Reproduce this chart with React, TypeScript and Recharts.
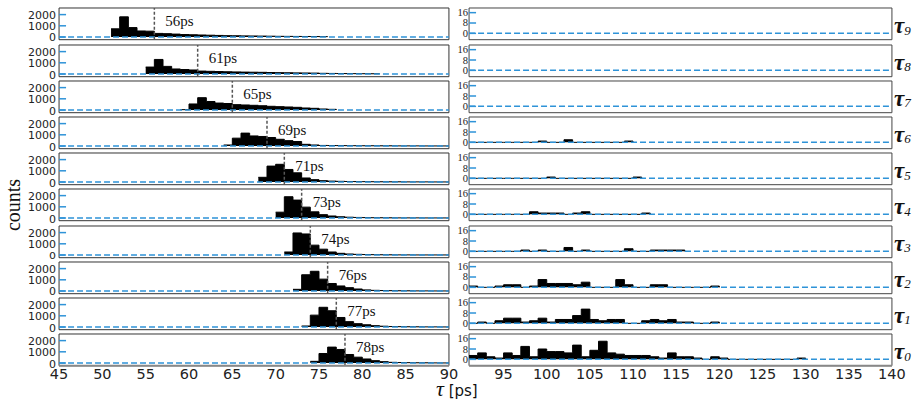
import React from 'react';
import { ComposedChart, Area, XAxis, YAxis, ReferenceLine, ReferenceArea } from 'recharts';

// rows top to bottom: tau9 ... tau0
const tauIndex = [9, 8, 7, 6, 5, 4, 3, 2, 1, 0];
const meanPs = [56, 61, 65, 69, 71, 73, 74, 76, 77, 78];

// left panel: first bin (ps) of every row, 1 ps bins
const leftFirstBin = [51, 55, 59, 64, 68, 70, 71, 72, 73, 74];
const leftT9 = [730, 1800, 840, 540, 520, 320, 300, 260, 220, 200, 180, 160, 140, 120, 110, 100, 90, 80, 70, 60, 55, 50, 45, 40, 30];
const leftT8 = [620, 1300, 680, 450, 400, 360, 260, 240, 220, 200, 185, 170, 160, 150, 130, 120, 110, 100, 90, 80, 60, 50, 40, 35, 30, 25, 20];
const leftT7 = [30, 540, 1100, 760, 620, 580, 480, 450, 420, 380, 330, 300, 270, 240, 180, 150, 90, 60];
const leftT6 = [90, 700, 1150, 900, 850, 760, 600, 480, 400, 150, 90, 50, 40, 35, 30, 25, 20, 20, 15, 15, 10, 10, 10, 5, 5, 5];
const leftT5 = [420, 1420, 1580, 1120, 820, 360, 210, 120, 80, 60, 45, 35, 30, 25, 20, 15, 15, 10, 10, 10, 5, 5];
const leftT4 = [520, 1900, 1600, 970, 550, 300, 180, 110, 70, 50, 35, 25, 20, 15, 10, 10, 10, 5, 5, 5];
const leftT3 = [270, 1970, 1880, 880, 520, 270, 150, 90, 60, 40, 30, 20, 15, 10, 10, 5, 5, 5, 5];
const leftT2 = [150, 1450, 1760, 1060, 670, 450, 300, 180, 100, 60, 40, 30, 20, 15, 10, 10, 5, 5];
const leftT1 = [90, 1060, 1760, 1450, 850, 480, 300, 200, 120, 70, 40, 30, 20, 15, 10, 10, 5];
const leftT0 = [150, 850, 1420, 1210, 760, 520, 360, 210, 120, 60, 40, 30, 20, 15, 10, 5];
const leftCounts = [leftT9, leftT8, leftT7, leftT6, leftT5, leftT4, leftT3, leftT2, leftT1, leftT0];

// right panel: every row starts at 91 ps
const rightFirstBin = 91;
const rightT9: number[] = [];
const rightT8: number[] = [];
const rightT7: number[] = [];
const rightT6 = [0, 0, 0, 0, 0, 0, 0, 0, 1, 0, 0, 2, 0, 0, 0, 0, 0, 0, 1];
const rightT5 = [0, 0, 0, 0, 0, 0, 0, 0, 0, 1, 0, 0, 0, 0, 0, 0, 0, 0, 0, 1];
const rightT4 = [0, 0, 0, 0, 0, 0, 0, 2, 1, 1, 1, 0, 1, 2, 0, 0, 0, 0, 0, 0, 1];
const rightT3 = [0, 0, 0, 0, 0, 0, 1, 0, 1, 0, 0, 3, 0, 1, 0, 0, 0, 0, 2, 0, 0, 1, 1, 1, 1];
const rightT2 = [1, 0, 0, 1, 2, 2, 0, 1, 6, 3, 3, 3, 2, 4, 0, 0, 0, 6, 2, 0, 0, 2, 2, 0, 0, 0, 0, 0, 1];
const rightT1 = [0, 1, 0, 2, 4, 4, 1, 2, 4, 1, 3, 3, 6, 11, 3, 2, 3, 3, 0, 0, 2, 3, 2, 3, 1, 1, 0, 0, 1];
const rightT0 = [3, 5, 2, 1, 5, 3, 10, 2, 8, 6, 6, 5, 11, 2, 7, 14, 5, 4, 3, 3, 3, 2, 1, 5, 2, 2, 1, 0, 2, 1, 0, 0, 0, 0, 0, 0, 0, 0, 1];
const rightCounts = [rightT9, rightT8, rightT7, rightT6, rightT5, rightT4, rightT3, rightT2, rightT1, rightT0];

const leftTicksX = [45, 50, 55, 60, 65, 70, 75, 80, 85, 90];
const rightTicksX = [95, 100, 105, 110, 115, 120, 125, 130, 135, 140];
const leftTicksY = [0, 1000, 2000];
const rightTicksY = [0, 8, 16];

const ROW_TOP = 8.3;
const ROW_STEP = 36.2;
const PLOT_H = 31.7;
const PAD = 5; // room above/below each plot so tick labels are not clipped
const X_AXIS_H = 22;
const BLUE = '#2e93d8';

// step points for a stepAfter area: one per bin edge, closed at the last edge
function toSteps(first: number, counts: number[]) {
  if (!counts.length) return [];
  const pts = counts.map((n, i) => ({ t: first + i, n }));
  pts.push({ t: first + counts.length, n: 0 });
  return pts;
}

const LeftTick = (props: any) => {
  const { x, y, payload } = props;
  return (
    <g>
      <text x={x - 1} y={y} dy={4.5} textAnchor="end" fontFamily="DejaVu Sans" fontSize={11} fill="#222">
        {payload.value}
      </text>
      <line x1={x + 2} x2={x + 9} y1={y} y2={y} stroke={BLUE} strokeWidth={1.5} />
    </g>
  );
};

const RightTick = (props: any) => {
  const { x, y, payload } = props;
  return (
    <g>
      <text x={x} y={y} dy={3.5} textAnchor="end" fontFamily="Liberation Serif" fontSize={10.5} fill="#222">
        {payload.value}
      </text>
      <line x1={x + 1} x2={x + 8} y1={y} y2={y} stroke={BLUE} strokeWidth={1.5} />
    </g>
  );
};

const MeanLabel = (props: any) => {
  const { viewBox, text } = props;
  if (!viewBox) return null;
  return (
    <text x={viewBox.x + 11} y={viewBox.y + 18.5} fontFamily="Liberation Serif" fontSize={15} fill="#111">
      {text}
    </text>
  );
};

const xTickStyle = { fontFamily: 'DejaVu Sans', fontSize: 14.5, fill: '#222' };

function LeftRow({ row }: { row: number }) {
  const bottom = row === tauIndex.length - 1;
  const data = toSteps(leftFirstBin[row], leftCounts[row]);
  return (
    <div style={{ position: 'absolute', left: 0, top: ROW_TOP + row * ROW_STEP - PAD }}>
      <ComposedChart
        width={461}
        height={PLOT_H + 2 * PAD + (bottom ? X_AXIS_H : 0)}
        data={data}
        margin={{ top: PAD, right: 12, bottom: PAD, left: 0 }}
      >
        <XAxis
          type="number"
          dataKey="t"
          domain={[45, 90]}
          ticks={leftTicksX}
          interval={0}
          allowDataOverflow
          tick={bottom ? xTickStyle : false}
          tickLine={false}
          tickSize={0}
          tickMargin={3.5}
          height={bottom ? X_AXIS_H : 0}
          axisLine={{ stroke: '#888', strokeWidth: 2 }}
        />
        <YAxis
          type="number"
          domain={[-240, 2590]}
          ticks={leftTicksY}
          interval={0}
          allowDataOverflow
          width={59}
          tickSize={0}
          tickMargin={2}
          tickLine={false}
          axisLine={false}
          tick={<LeftTick />}
        />
        <ReferenceArea x1={45} x2={90} y1={-240} y2={2590} fill="none" stroke="#333" strokeWidth={1} />
        <Area
          type="stepAfter"
          dataKey="n"
          stroke="#000"
          strokeWidth={1}
          fill="#000"
          fillOpacity={1}
          isAnimationActive={false}
          dot={false}
          activeDot={false}
        />
        <ReferenceLine y={0} stroke={BLUE} strokeWidth={1.5} strokeDasharray="6 3" />
        <ReferenceLine
          x={meanPs[row]}
          stroke="#555"
          strokeWidth={1.5}
          strokeDasharray="3 2"
          label={<MeanLabel text={`${meanPs[row]}ps`} />}
        />
      </ComposedChart>
    </div>
  );
}

function RightRow({ row }: { row: number }) {
  const bottom = row === tauIndex.length - 1;
  const data = toSteps(rightFirstBin, rightCounts[row]);
  return (
    <div style={{ position: 'absolute', left: 449, top: ROW_TOP + row * ROW_STEP - PAD }}>
      <ComposedChart
        width={465}
        height={PLOT_H + 2 * PAD + (bottom ? X_AXIS_H : 0)}
        data={data}
        margin={{ top: PAD, right: 22, bottom: PAD, left: 0 }}
      >
        <XAxis
          type="number"
          dataKey="t"
          domain={[91, 140]}
          ticks={rightTicksX}
          interval={0}
          allowDataOverflow
          tick={bottom ? xTickStyle : false}
          tickLine={false}
          tickSize={0}
          tickMargin={3.5}
          height={bottom ? X_AXIS_H : 0}
          axisLine={{ stroke: '#888', strokeWidth: 2 }}
        />
        <YAxis
          type="number"
          domain={[-4.9, 19.6]}
          ticks={rightTicksY}
          interval={0}
          allowDataOverflow
          width={20}
          tickSize={0}
          tickMargin={1}
          tickLine={false}
          axisLine={false}
          tick={<RightTick />}
        />
        <ReferenceArea x1={91} x2={140} y1={-4.9} y2={19.6} fill="none" stroke="#444" strokeWidth={1} />
        <Area
          type="stepAfter"
          dataKey="n"
          stroke="#000"
          strokeWidth={1}
          fill="#000"
          fillOpacity={1}
          isAnimationActive={false}
          dot={false}
          activeDot={false}
        />
        <ReferenceLine y={0} stroke={BLUE} strokeWidth={1.5} strokeDasharray="6 3" />
      </ComposedChart>
    </div>
  );
}

export default function App() {
  return (
    <div style={{ position: 'absolute', left: 0, top: 0, width: 914, height: 400, background: '#fff' }}>
      {tauIndex.map((_, r) => (
        <LeftRow key={`l${r}`} row={r} />
      ))}
      {tauIndex.map((_, r) => (
        <RightRow key={`r${r}`} row={r} />
      ))}
      <svg
        width={914}
        height={400}
        style={{ position: 'absolute', left: 0, top: 0, pointerEvents: 'none' }}
      >
        <text
          x={20}
          y={205}
          transform="rotate(-90 20 205)"
          textAnchor="middle"
          fontFamily="Liberation Serif"
          fontSize={20}
          fill="#111"
        >
          counts
        </text>
        <text x={436} y={396} fill="#111">
          <tspan fontFamily="Liberation Serif" fontStyle="italic" fontSize={22}>τ</tspan>
          <tspan fontFamily="DejaVu Sans" fontSize={15}> [ps]</tspan>
        </text>
        {tauIndex.map((t, r) => (
          <text key={t} x={894} y={ROW_TOP + r * ROW_STEP + 25} fill="#111" fontFamily="Liberation Serif">
            <tspan fontStyle="italic" fontWeight="bold" fontSize={23}>τ</tspan>
            <tspan fontStyle="italic" fontSize={13} dy={1.5}>{t}</tspan>
          </text>
        ))}
      </svg>
    </div>
  );
}
